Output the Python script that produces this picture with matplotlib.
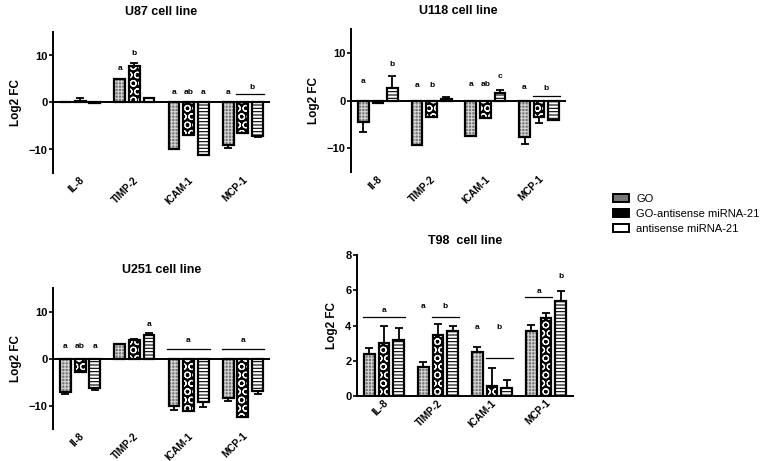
import numpy as np
import matplotlib
matplotlib.use("Agg")
import matplotlib.pyplot as plt
from matplotlib.patches import Patch

plt.rcParams["font.family"] = ["Liberation Sans", "DejaVu Sans"]
plt.rcParams["hatch.linewidth"] = 0.8

groups_a = ["IL-8", "TIMP-2", "ICAM-1", "MCP-1"]
groups_b = ["Il-8", "TIMP-2", "ICAM-1", "MCP-1"]
series = ["GO", "GO-antisense miRNA-21", "antisense miRNA-21"]

# values per series: [IL-8, TIMP-2, ICAM-1, MCP-1]
u87_go = [0.1, 4.9, -9.9, -9.1]
u87_goas = [0.4, 7.7, -6.9, -6.4]
u87_as = [-0.1, 0.9, -11.1, -7.1]
u87_go_err = [0.0, 0.0, 0.0, 0.6]
u87_goas_err = [0.6, 0.6, 0.0, 0.0]
u87_as_err = [0.0, 0.0, 0.0, 0.3]

u118_go = [-4.6, -9.3, -7.5, -7.7]
u118_goas = [-0.5, -3.5, -3.7, -3.5]
u118_as = [2.6, 0.4, 1.6, -4.1]
u118_go_err = [2.1, 0.0, 0.0, 1.4]
u118_goas_err = [0.0, 0.0, 0.0, 1.3]
u118_as_err = [2.5, 0.4, 0.7, 0.0]

u251_go = [-7.2, 3.0, -10.0, -8.3]
u251_goas = [-2.8, 3.9, -11.2, -12.5]
u251_as = [-6.3, 4.9, -9.3, -7.0]
u251_go_err = [0.4, 0.0, 1.0, 0.7]
u251_goas_err = [0.0, 0.3, 0.0, 0.0]
u251_as_err = [0.4, 0.6, 1.1, 0.5]

t98_go = [2.4, 1.65, 2.5, 3.7]
t98_goas = [3.0, 3.45, 0.55, 4.4]
t98_as = [3.2, 3.7, 0.45, 5.4]
t98_go_err = [0.35, 0.3, 0.3, 0.35]
t98_goas_err = [1.0, 0.65, 1.05, 0.3]
t98_as_err = [0.65, 0.25, 0.45, 0.55]

# letters: (group, bar, y, text); lines: (group, first bar, last bar, y)
u87_letters = [(1, 0, 6.5, "a"), (1, 1, 9.6, "b"), (2, 0, 1.3, "a"), (2, 1, 1.3, "ab"),
               (2, 2, 1.3, "a"), (3, 0, 1.3, "a"), (3, 1.6, 2.5, "b")]
u87_lines = [(3, 1, 2, 1.9)]
u118_letters = [(0, 0, 3.2, "a"), (0, 2, 6.8, "b"), (1, 0, 2.4, "a"), (1, 1, 2.4, "b"),
                (2, 0, 2.6, "a"), (2, 1, 2.6, "ab"), (2, 2, 4.2, "c"), (3, 0, 2.0, "a"),
                (3, 1.5, 1.8, "b")]
u118_lines = [(3, 1, 2, 1.0)]
u251_letters = [(0, 0, 1.9, "a"), (0, 1, 1.9, "ab"), (0, 2, 1.9, "a"), (1, 2, 6.5, "a"),
                (2, 1, 3.0, "a"), (3, 1, 3.0, "a")]
u251_lines = [(2, 0, 2, 2.0), (3, 0, 2, 2.0)]
t98_letters = [(0, 1, 4.65, "a"), (1, 0, 4.9, "a"), (1, 1.5, 4.9, "b"), (2, 0, 3.7, "a"),
               (2, 1.5, 3.7, "b"), (3, 0.5, 5.75, "a"), (3, 2, 6.6, "b")]
t98_lines = [(0, 0, 2, 4.5), (1, 1, 2, 4.5), (2, 1, 2, 2.15), (3, 0, 1, 5.6)]

off = 0.27
bw = 0.2

go_style = dict(color="#767676", edgecolor="#d4d4d4", hatch="+++++", lw=0)
goas_style = dict(color="black", edgecolor="white", hatch="OO", lw=0)
as_style = dict(color="white", edgecolor="black", hatch="-----", lw=0)
styles = [go_style, goas_style, as_style]


def draw_bars(ax, x, vals, errs, style):
    vals = np.array(vals)
    errs = np.array(errs)
    ax.bar(x, vals, bw, zorder=2, **styles[style])
    ax.bar(x, vals, bw, color="none", edgecolor="black", lw=1.6, zorder=3)
    lower = np.where(vals < 0, errs, 0)
    upper = np.where(vals >= 0, errs, 0)
    ax.errorbar(x, vals, yerr=[lower, upper], fmt="none", ecolor="black",
                elinewidth=1.3, capsize=3, capthick=1.3, zorder=1)


def panel(rect, title, labels, go, goas, anti, e0, e1, e2, letters, lines, ylim, yticks,
          zero_axis, tpad):
    ax = fig.add_axes(rect)
    x = np.arange(4)
    draw_bars(ax, x - off, go, e0, 0)
    draw_bars(ax, x, goas, e1, 1)
    draw_bars(ax, x + off, anti, e2, 2)
    for g, b, y, t in letters:
        ax.text(g + (b - 1) * off, y, t, ha="center", va="bottom", fontsize=6,
                fontweight="bold")
    for g, b0, b1, y in lines:
        ax.plot([g + (b0 - 1) * off - 0.12, g + (b1 - 1) * off + 0.12], [y, y],
                color="black", lw=0.9)
    ax.set_xlim(-0.5, 3.5)
    ax.set_ylim(*ylim)
    ax.set_yticks(yticks)
    ax.set_xticks(x + 0.05)
    ax.set_xticklabels(labels, rotation=45, ha="right", va="center", rotation_mode="anchor",
                       fontsize=7.2, fontweight="bold")
    ax.tick_params(axis="x", length=0, pad=4)
    ax.tick_params(axis="y", labelsize=8, width=1.2, length=3, pad=1)
    for t in ax.get_yticklabels():
        t.set_fontweight("bold")
    for s in ["top", "right", "bottom"]:
        ax.spines[s].set_visible(False)
    ax.spines["left"].set_linewidth(1.4)
    if zero_axis:
        ax.axhline(0, color="black", lw=1.4, zorder=4)
    else:
        ax.spines["bottom"].set_visible(True)
        ax.spines["bottom"].set_linewidth(1.4)
    ax.set_ylabel("Log2 FC", fontsize=8.5, fontweight="bold", labelpad=5)
    ax.set_title(title, fontsize=9, fontweight="bold", pad=tpad)
    return ax


fig = plt.figure(figsize=(7.64, 4.61), dpi=100)
W, H = 764, 461


def rect(l, t, r, b):
    return [l / W, 1 - b / H, (r - l) / W, (b - t) / H]


panel(rect(53, 32, 270, 173), "U87 cell line", groups_a, u87_go, u87_goas, u87_as,
      u87_go_err, u87_goas_err, u87_as_err, u87_letters, u87_lines, (-15, 15), [-10, 0, 10],
      True, 12)
panel(rect(351, 29, 566, 172), "U118 cell line", groups_b, u118_go, u118_goas, u118_as,
      u118_go_err, u118_goas_err, u118_as_err, u118_letters, u118_lines, (-15, 15), [-10, 0, 10],
      True, 11)
panel(rect(53, 288, 270, 429), "U251 cell line", groups_b, u251_go, u251_goas, u251_as,
      u251_go_err, u251_goas_err, u251_as_err, u251_letters, u251_lines, (-15, 15), [-10, 0, 10],
      True, 11)
panel(rect(357, 255, 573, 396), "T98  cell line", groups_a, t98_go, t98_goas, t98_as,
      t98_go_err, t98_goas_err, t98_as_err, t98_letters, t98_lines, (0, 8), [0, 2, 4, 6, 8],
      False, 8)

handles = [(Patch(**s), Patch(facecolor="none", edgecolor="black", lw=1.4)) for s in styles]
fig.legend(handles, series, loc="upper left", bbox_to_anchor=(603 / W, 1 - 184 / H),
           frameon=False, fontsize=8, handlelength=1.4, handleheight=0.65,
           labelspacing=0.45, handletextpad=0.7)

fig.savefig("out.png", dpi=100, facecolor="white")
